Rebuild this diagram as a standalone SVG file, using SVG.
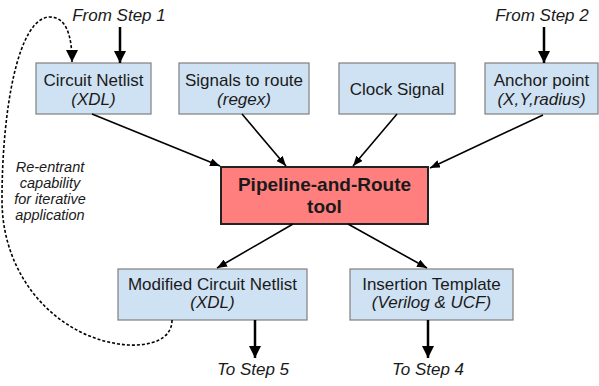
<svg xmlns="http://www.w3.org/2000/svg" width="599" height="386" viewBox="0 0 599 386">
<style>
text{font-family:"Liberation Sans",Arial,sans-serif;fill:#1a1a1a}
.b{fill:#cfe2f3;stroke:#7f7f7f;stroke-width:1.2}
.p{fill:#ff7f7f;stroke:#222;stroke-width:2}
.t{font-size:17px;text-anchor:middle}
.i{font-style:italic}
.c{stroke:#000;stroke-width:1.6;fill:none}
.v{stroke:#000;stroke-width:2.5;fill:none}
.d{stroke:#000;stroke-width:1.6;fill:none;stroke-dasharray:3,2}
</style>
<defs>
<marker id="ah" viewBox="0 0 10 8" refX="10" refY="4" markerWidth="10" markerHeight="8" markerUnits="userSpaceOnUse" orient="auto">
<path d="M0,0L10,4L0,8z" fill="#000"/>
</marker>
<marker id="ah2" viewBox="0 0 10 10" refX="10" refY="5" markerWidth="12" markerHeight="12" markerUnits="userSpaceOnUse" orient="auto">
<path d="M0,0L10,5L0,10z" fill="#000"/>
</marker>
</defs>
<g id="labels">
<text class="t i" x="119" y="21">From Step 1</text>
<text class="t i" x="542" y="21">From Step 2</text>
<text class="t i" x="253" y="375">To Step 5</text>
<text class="t i" x="428" y="375">To Step 4</text>
<g font-size="14.5" font-style="italic" text-anchor="middle">
<text x="50" y="172">Re-entrant</text>
<text x="50" y="188">capability</text>
<text x="50" y="204">for iterative</text>
<text x="50" y="220">application</text>
</g>
</g>
<g id="n1"><rect class="b" x="36" y="63" width="115" height="51"/><text class="t" x="93.5" y="86">Circuit Netlist</text><text class="t i" x="93.5" y="105">(XDL)</text></g>
<g id="n2"><rect class="b" x="179" y="63" width="130" height="51"/><text class="t" x="244" y="86">Signals to route</text><text class="t i" x="244" y="105">(regex)</text></g>
<g id="n3"><rect class="b" x="339" y="63" width="116" height="51"/><text class="t" x="397" y="95">Clock Signal</text></g>
<g id="n4"><rect class="b" x="485" y="63" width="113" height="51"/><text class="t" x="541.5" y="86">Anchor point</text><text class="t i" x="541.5" y="105">(X,Y,radius)</text></g>
<g id="n5"><rect class="p" x="221" y="167" width="207" height="57"/><text x="324.5" y="191" font-size="19" font-weight="bold" text-anchor="middle">Pipeline-and-Route</text><text x="324.5" y="213" font-size="19" font-weight="bold" text-anchor="middle">tool</text></g>
<g id="n6"><rect class="b" x="118" y="269" width="189" height="51"/><text class="t" x="212.5" y="290">Modified Circuit Netlist</text><text class="t i" x="212.5" y="308">(XDL)</text></g>
<g id="n7"><rect class="b" x="350" y="269" width="163" height="51"/><text class="t" x="431.5" y="290">Insertion Template</text><text class="t i" x="431.5" y="308">(Verilog &amp; UCF)</text></g>
<g id="connectors">
<path class="v" d="M120,27V63" marker-end="url(#ah2)"/>
<path class="v" d="M544,27V63" marker-end="url(#ah2)"/>
<path class="c" d="M92,114L220,166" marker-end="url(#ah)"/>
<path class="c" d="M242,114L286,166" marker-end="url(#ah)"/>
<path class="c" d="M397,114L353,166" marker-end="url(#ah)"/>
<path class="c" d="M543,115L430,168" marker-end="url(#ah)"/>
<path class="c" d="M293,224L217,268" marker-end="url(#ah)"/>
<path class="c" d="M348,224L427,268" marker-end="url(#ah)"/>
<path class="v" d="M255,320V358" marker-end="url(#ah2)"/>
<path class="v" d="M428,320V358" marker-end="url(#ah2)"/>
<path class="d" d="M172,320C172,340 150,346 128,345C60,340 2,280 2,200C2,110 18,17 50,17C66,17 72,35 72,62" marker-end="url(#ah2)"/>
</g>
</svg>
